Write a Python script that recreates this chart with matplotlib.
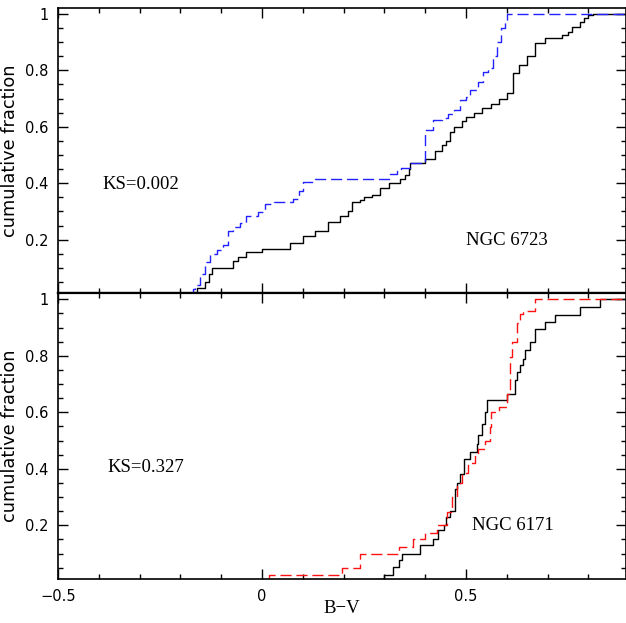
import numpy as np
import matplotlib
matplotlib.use("Agg")
import matplotlib.pyplot as plt
from matplotlib.ticker import MultipleLocator

# NGC 6723 panel: step positions (B-V) and cumulative fraction after each step
bv_6723_blk = [-0.176, -0.16, -0.14, -0.13, -0.123, -0.07, -0.06, -0.04, 0.0, 0.069,
               0.10, 0.13, 0.162, 0.191, 0.21, 0.22, 0.24, 0.25, 0.27, 0.29, 0.31, 0.338,
               0.35, 0.36, 0.363, 0.40, 0.424, 0.44, 0.45, 0.46, 0.47, 0.49, 0.50, 0.52,
               0.54, 0.56, 0.58, 0.60, 0.616, 0.63, 0.65, 0.67, 0.694, 0.734, 0.75, 0.76,
               0.78, 0.79, 0.80, 0.81]
cf_6723_blk = [0.01, 0.03, 0.05, 0.08, 0.10, 0.125, 0.14, 0.155, 0.167, 0.187,
               0.214, 0.232, 0.262, 0.285, 0.30, 0.333, 0.34, 0.35, 0.36, 0.384, 0.40, 0.416,
               0.43, 0.45, 0.47, 0.487, 0.516, 0.534, 0.55, 0.58, 0.60, 0.62, 0.635, 0.65,
               0.665, 0.68, 0.70, 0.718, 0.789, 0.82, 0.85, 0.896, 0.913, 0.925, 0.935, 0.955,
               0.97, 0.985, 0.996, 1.0]
bv_6723_blu = [-0.176, -0.17, -0.164, -0.152, -0.14, -0.127, -0.11, -0.095, -0.083, -0.07,
               -0.055, -0.04, -0.01, 0.007, 0.03, 0.076, 0.09, 0.10, 0.13, 0.314, 0.33,
               0.34, 0.363, 0.40, 0.42, 0.44, 0.456, 0.47, 0.485, 0.50, 0.51, 0.53, 0.542,
               0.554, 0.565, 0.575, 0.585, 0.595, 0.60]
cf_6723_blu = [0.007, 0.025, 0.04, 0.08, 0.12, 0.15, 0.165, 0.18, 0.23, 0.245,
               0.26, 0.285, 0.297, 0.327, 0.333, 0.345, 0.374, 0.404, 0.416, 0.433, 0.445,
               0.455, 0.47, 0.587, 0.623, 0.632, 0.646, 0.66, 0.694, 0.705, 0.73, 0.76, 0.795,
               0.81, 0.85, 0.90, 0.95, 0.98, 1.0]

# NGC 6171 panel
bv_6171_blk = [0.281, 0.298, 0.322, 0.335, 0.342, 0.387, 0.42, 0.432, 0.445, 0.452,
               0.46, 0.473, 0.478, 0.485, 0.494, 0.51, 0.526, 0.53, 0.539, 0.546, 0.551,
               0.60, 0.62, 0.626, 0.632, 0.64, 0.645, 0.657, 0.669, 0.694, 0.718, 0.779,
               0.828]
cf_6171_blk = [0.011, 0.023, 0.052, 0.076, 0.10, 0.129, 0.153, 0.182, 0.20, 0.229,
               0.25, 0.33, 0.35, 0.38, 0.436, 0.459, 0.489, 0.52, 0.56, 0.60, 0.642,
               0.666, 0.713, 0.743, 0.766, 0.79, 0.82, 0.849, 0.896, 0.92, 0.943, 0.973,
               1.0]
bv_6171_red = [0.015, 0.016, 0.195, 0.24, 0.335, 0.37, 0.40, 0.428, 0.449, 0.453,
               0.465, 0.477, 0.49, 0.505, 0.522, 0.53, 0.547, 0.559, 0.562, 0.58, 0.60,
               0.608, 0.612, 0.624, 0.632, 0.64, 0.669]
cf_6171_red = [0.011, 0.023, 0.05, 0.10, 0.123, 0.153, 0.173, 0.20, 0.20, 0.247,
               0.30, 0.348, 0.384, 0.42, 0.448, 0.47, 0.50, 0.548, 0.601, 0.62, 0.666,
               0.796, 0.849, 0.915, 0.949, 0.96, 1.0]

panels = [
    dict(blk=(bv_6723_blk, cf_6723_blk), cmp=(bv_6723_blu, cf_6723_blu), color="#2222ff",
         ks="KS=0.002", ks_pos=(-0.392, 0.395), name="NGC 6723", name_pos=(0.50, 0.196)),
    dict(blk=(bv_6171_blk, cf_6171_blk), cmp=(bv_6171_red, cf_6171_red), color="#ff1111",
         ks="KS=0.327", ks_pos=(-0.38, 0.405), name="NGC 6171", name_pos=(0.515, 0.20)),
]

fig = plt.figure(figsize=(6.26, 6.23), dpi=100)
ax_top = fig.add_axes([0.0927, 0.5292, 0.9073, 0.4580])
ax_bot = fig.add_axes([0.0927, 0.0706, 0.9073, 0.4586], sharex=ax_top)

serif = ["Liberation Serif", "DejaVu Serif"]
sans = ["DejaVu Sans"]

for ax, pn in zip([ax_top, ax_bot], panels):
    x, y = pn["blk"]
    ax.plot(x + [1.0], y + [y[-1]], drawstyle="steps-post", color="black", lw=1.0)
    x, y = pn["cmp"]
    ax.plot(x + [1.0], y + [y[-1]], drawstyle="steps-post", color=pn["color"], lw=1.0,
            dashes=(8, 3.5))
    ax.text(*pn["ks_pos"], pn["ks"], fontsize=13.5, family=serif, va="center")
    ax.text(*pn["name_pos"], pn["name"], fontsize=13.5, family=serif, va="center")
    ax.set_xlim(-0.5, 0.892)
    ax.set_ylim(0.01, 1.021)
    ax.xaxis.set_major_locator(MultipleLocator(0.5))
    ax.xaxis.set_minor_locator(MultipleLocator(0.1))
    ax.set_yticks([0.2, 0.4, 0.6, 0.8, 1.0], ["0.2", "0.4", "0.6", "0.8", "1"])
    ax.yaxis.set_minor_locator(MultipleLocator(0.05))
    ax.tick_params(which="both", direction="in", top=True, right=True, width=1.0)
    ax.tick_params(which="major", length=7.5, labelsize=10.5, pad=7)
    ax.tick_params(which="minor", length=3.8)
    for lab in ax.get_xticklabels() + ax.get_yticklabels():
        lab.set_family(sans)
    for s in ax.spines.values():
        s.set_linewidth(1.2)
    ax.set_ylabel("cumulative fraction", fontsize=12.8, family=sans, labelpad=4)

ax_top.spines["bottom"].set_linewidth(1.6)
ax_bot.spines["top"].set_linewidth(1.6)
ax_top.tick_params(labelbottom=False)
ax_bot.set_xticks([-0.5, 0, 0.5], ["\u22120.5", "0", "0.5"])
for lab in ax_bot.get_xticklabels():
    lab.set_family(sans)
ax_bot.set_xlabel("B\u2212V", fontsize=13.5, family=serif, labelpad=-3)

fig.savefig("out.png", dpi=100)
